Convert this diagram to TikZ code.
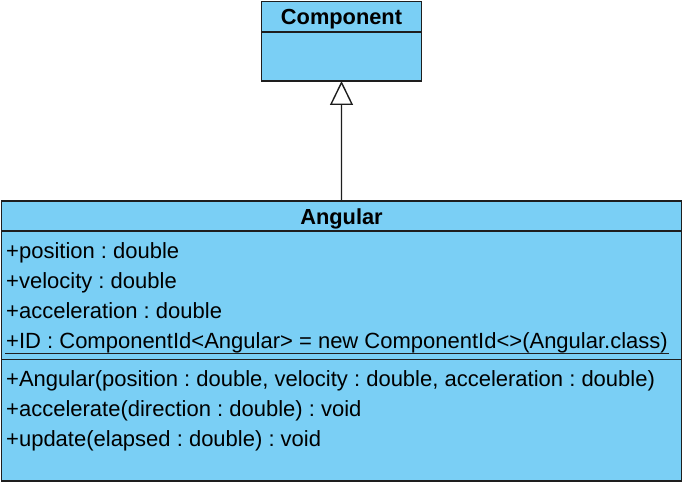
\documentclass[tikz,border=0pt]{standalone}
\usepackage{fontspec}
\setmainfont{Liberation Sans}
\usetikzlibrary{arrows.meta}
\definecolor{umlfill}{RGB}{122,207,245}
\definecolor{umlline}{RGB}{30,30,30}
\frenchspacing
\begin{document}
\begin{tikzpicture}[x=1bp,y=-1bp,
  classbox/.style={draw=umlline, fill=umlfill, line width=1.5bp, rectangle, inner sep=0pt, outer sep=0pt},
  member/.style={anchor=base west, inner sep=0pt, font=\fontsize{22bp}{26bp}\selectfont},
  classtitle/.style={anchor=base, inner sep=0pt, font=\fontsize{21.8bp}{26bp}\selectfont\bfseries},
  sepline/.style={draw=umlline, line width=1.5bp},
  ]
\useasboundingbox (0,0) rectangle (683,483);
\node[classbox, minimum width=160bp, minimum height=79.5bp, anchor=north west] (comp) at (261.5,1.5) {};
\node[classbox, minimum width=680bp, minimum height=280bp, anchor=north west] (ang) at (1.5,201) {};
\draw[sepline] ([yshift=-30.5bp]comp.north west) -- ([yshift=-30.5bp]comp.north east);
\draw[sepline] ([yshift=-30bp]ang.north west) -- ([yshift=-30bp]ang.north east);
\draw[sepline] ([yshift=-158.5bp]ang.north west) -- ([yshift=-158.5bp]ang.north east);
\node[classtitle] (comptitle) at (341.5,25) {Component};
\node[classtitle] (angtitle) at (341.5,224.3) {Angular};
\node[member] (a1) at (6,258.3) {+position : double};
\node[member] (a2) at (6,288.3) {+velocity : double};
\node[member] (a3) at (6,318.3) {+acceleration : double};
\node[member] (a4) at (6,348.1) {+ID : ComponentId<Angular> = new ComponentId<>(Angular.class)};
\draw[draw=umlline, line width=1.3bp] ([xshift=-1bp,yshift=-5.3bp]a4.base west) -- ([xshift=1bp,yshift=-5.3bp]a4.base east);
\node[member] (o1) at (6,386.7) {+Angular(position : double, velocity : double, acceleration : double)};
\node[member] (o2) at (6,416.7) {+accelerate(direction : double) : void};
\node[member] (o3) at (6,446.7) {+update(elapsed : double) : void};
\draw[draw=umlline, line width=1.4bp, -{Triangle[open, length=24bp, width=23bp, fill=white]}] (ang.north) -- (comp.south);
\end{tikzpicture}
\end{document}
